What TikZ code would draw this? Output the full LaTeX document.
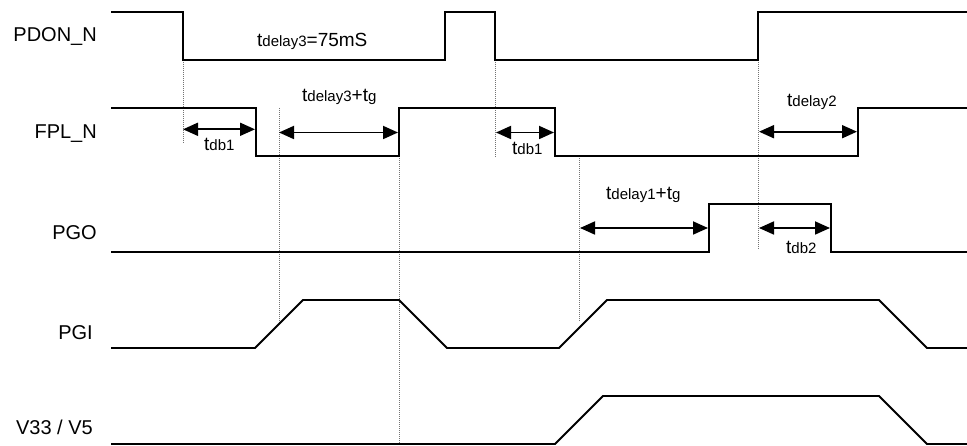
\documentclass[tikz,border=0pt]{standalone}
\usepackage{fontspec}
\setmainfont{Liberation Sans}
\usetikzlibrary{arrows.meta}
\newcommand{\bigt}{{\fontsize{19}{22}\selectfont t}}
\newcommand{\smallsub}[1]{{\fontsize{15}{18}\selectfont #1}}
\begin{document}
\begin{tikzpicture}[x=1pt,y=-1pt,
  sig/.style={line width=1.8pt, line join=miter},
  guide/.style={black!55, line width=0.7pt, dash pattern=on 1pt off 1pt},
  dimarrow/.style={line width=1.8pt, {Triangle[length=15pt,width=13pt]}-{Triangle[length=15pt,width=13pt]}},
  siglabel/.style={anchor=base east, inner sep=0pt, font=\fontsize{20}{24}\selectfont},
  timelabel/.style={anchor=base west, inner sep=0pt, font=\fontsize{19}{22}\selectfont}]
\useasboundingbox (0,0) rectangle (967,446);

% signal names
\node[siglabel] (lpdon) at (97,41.7) {PDON\_N};
\node[siglabel] (lfpl)  at (97,138.3) {FPL\_N};
\node[siglabel] (lpgo)  at (97,240) {PGO};
\node[siglabel] (lpgi)  at (93,339.3) {PGI};
\node[siglabel] (lv33)  at (93,435) {V33 / V5};

% guide lines (dotted)
\draw[guide] (183,60) -- (183,143);
\draw[guide] (279,108) -- (279,323);
\draw[guide] (399,108) -- (399,444);
\draw[guide] (495,60) -- (495,157);
\draw[guide] (579,156) -- (579,321);
\draw[guide] (758,60) -- (758,250);

% waveforms
\draw[sig] (111,12) -- (183,12) -- (183,60) -- (445,60) -- (445,12) -- (495,12) -- (495,60) -- (758,60) -- (758,12) -- (967,12);
\draw[sig] (111,108) -- (256,108) -- (256,156) -- (399,156) -- (399,108) -- (555,108) -- (555,156) -- (858,156) -- (858,108) -- (967,108);
\draw[sig] (111,252) -- (709,252) -- (709,204) -- (831,204) -- (831,252) -- (967,252);
\draw[sig] (111,348) -- (255,348) -- (303,300) -- (399,300) -- (447,348) -- (559,348) -- (607,300) -- (879,300) -- (927,348) -- (967,348);
\draw[sig] (111,444) -- (555,444) -- (603,396) -- (879,396) -- (927,444) -- (967,444);

% dimension arrow end points
\coordinate (a1s) at (183,129.3);
\coordinate (a1e) at (255,129.3);
\coordinate (a2s) at (279,132.5);
\coordinate (a2e) at (398,132.5);
\coordinate (a3s) at (496,132.5);
\coordinate (a3e) at (554,132.5);
\coordinate (a4s) at (759,131.7);
\coordinate (a4e) at (857,131.7);
\coordinate (a5s) at (580,228);
\coordinate (a5e) at (708,228);
\coordinate (a6s) at (759,228);
\coordinate (a6e) at (830,228);

\draw[dimarrow] (a1s) -- (a1e);
\draw[dimarrow] (a2s) -- (a2e);
\draw[dimarrow] (a3s) -- (a3e);
\draw[dimarrow] (a4s) -- (a4e);
\draw[dimarrow] (a5s) -- (a5e);
\draw[dimarrow] (a6s) -- (a6e);

% timing labels
\node[timelabel] (td3) at (257,46.7) {\bigt\smallsub{delay3}=75mS};
\node[timelabel] (td3g) at (302,102) {\bigt\smallsub{delay3}+\bigt\smallsub{g}};
\node[timelabel] (tdb1a) at (204,151) {\bigt\smallsub{db1}};
\node[timelabel] (tdb1b) at (512,155) {\bigt\smallsub{db1}};
\node[timelabel] (td2) at (787,106.7) {\bigt\smallsub{delay2}};
\node[timelabel] (td1g) at (606,200) {\bigt\smallsub{delay1}+\bigt\smallsub{g}};
\node[timelabel] (tdb2) at (786,253.3) {\bigt\smallsub{db2}};
\end{tikzpicture}
\end{document}
